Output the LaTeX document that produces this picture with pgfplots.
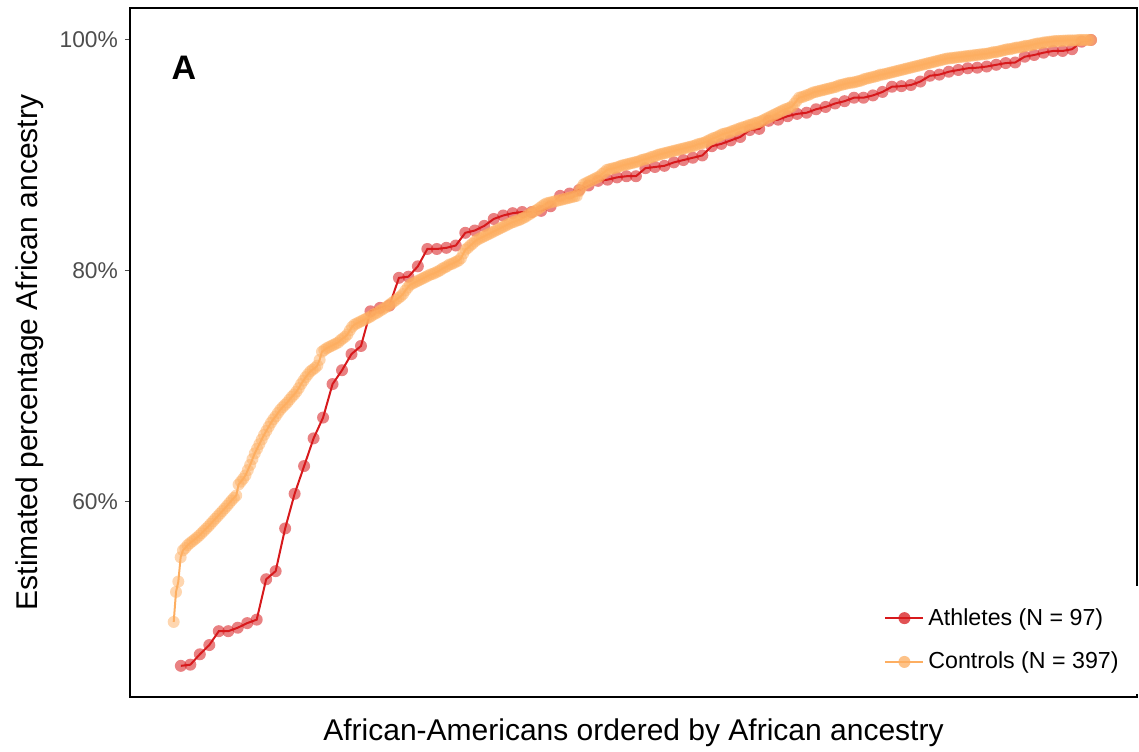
\documentclass[border=0pt]{standalone}
\usepackage{fontspec}
\setmainfont{Liberation Sans}
\usepackage{pgfplots}
\usepackage{pgfplotstable}
\pgfplotsset{compat=1.18}

\definecolor{athred}{HTML}{D7191C}
\definecolor{ctlorange}{HTML}{FDAE61}
\definecolor{tickgray}{HTML}{4D4D4D}

% Estimated African ancestry (%), sorted ascending within each group
\pgfplotstableread[row sep=\\]{
pct\\
45.8\\ 45.9\\ 46.8\\ 47.6\\ 48.8\\ 48.8\\ 49.1\\ 49.5\\ 49.8\\ 53.3\\
54.0\\ 57.7\\ 60.7\\ 63.1\\ 65.5\\ 67.3\\ 70.2\\ 71.4\\ 72.8\\ 73.5\\
76.5\\ 76.8\\ 77.0\\ 79.4\\ 79.5\\ 80.4\\ 81.9\\ 81.9\\ 82.0\\ 82.2\\
83.3\\ 83.5\\ 83.9\\ 84.5\\ 84.8\\ 85.0\\ 85.1\\ 85.1\\ 85.2\\ 85.6\\
86.5\\ 86.7\\ 87.0\\ 87.4\\ 87.8\\ 87.9\\ 88.1\\ 88.2\\ 88.2\\ 88.9\\
89.0\\ 89.1\\ 89.4\\ 89.6\\ 89.8\\ 90.0\\ 90.8\\ 91.0\\ 91.3\\ 91.6\\
92.2\\ 92.3\\ 93.0\\ 93.1\\ 93.4\\ 93.6\\ 93.7\\ 94.0\\ 94.2\\ 94.5\\
94.7\\ 95.0\\ 95.0\\ 95.2\\ 95.5\\ 95.95\\ 96.0\\ 96.1\\ 96.4\\ 96.9\\
97.0\\ 97.25\\ 97.4\\ 97.55\\ 97.6\\ 97.7\\ 97.85\\ 98.0\\ 98.05\\ 98.55\\
98.7\\ 98.9\\ 99.05\\ 99.05\\ 99.2\\ 99.85\\ 100.0\\
}\athletes

\pgfplotstableread[row sep=\\]{
pct\\
49.6\\ 52.2\\ 53.1\\ 55.2\\ 55.8\\ 56.0\\ 56.25\\ 56.42\\ 56.58\\ 56.74\\
56.9\\ 57.08\\ 57.28\\ 57.48\\ 57.68\\ 57.88\\ 58.1\\ 58.32\\ 58.54\\ 58.76\\
58.98\\ 59.2\\ 59.42\\ 59.65\\ 59.89\\ 60.13\\ 60.35\\ 60.55\\ 61.5\\ 61.75\\
62.0\\ 62.3\\ 62.75\\ 63.2\\ 63.7\\ 64.2\\ 64.6\\ 65.0\\ 65.4\\ 65.8\\
66.15\\ 66.5\\ 66.85\\ 67.15\\ 67.4\\ 67.7\\ 67.97\\ 68.2\\ 68.4\\ 68.6\\
68.85\\ 69.1\\ 69.3\\ 69.55\\ 69.85\\ 70.2\\ 70.5\\ 70.8\\ 71.05\\ 71.3\\
71.45\\ 71.6\\ 71.8\\ 72.3\\ 73.0\\ 73.15\\ 73.3\\ 73.4\\ 73.5\\ 73.6\\
73.7\\ 73.8\\ 74.0\\ 74.15\\ 74.3\\ 74.5\\ 74.85\\ 75.15\\ 75.35\\ 75.45\\
75.55\\ 75.65\\ 75.75\\ 75.85\\ 75.95\\ 76.05\\ 76.2\\ 76.3\\ 76.4\\ 76.55\\
76.65\\ 76.8\\ 76.9\\ 77.05\\ 77.2\\ 77.35\\ 77.5\\ 77.65\\ 77.8\\ 78.0\\
78.3\\ 78.55\\ 78.8\\ 78.9\\ 79.0\\ 79.1\\ 79.2\\ 79.3\\ 79.4\\ 79.5\\
79.6\\ 79.7\\ 79.75\\ 79.85\\ 79.95\\ 80.05\\ 80.2\\ 80.3\\ 80.4\\ 80.55\\
80.6\\ 80.7\\ 80.8\\ 80.9\\ 81.1\\ 81.5\\ 81.85\\ 82.0\\ 82.2\\ 82.35\\
82.55\\ 82.7\\ 82.8\\ 82.9\\ 83.0\\ 83.1\\ 83.2\\ 83.3\\ 83.4\\ 83.5\\
83.6\\ 83.7\\ 83.8\\ 83.9\\ 84.0\\ 84.1\\ 84.2\\ 84.25\\ 84.35\\ 84.4\\
84.5\\ 84.6\\ 84.7\\ 84.85\\ 84.95\\ 85.1\\ 85.2\\ 85.3\\ 85.45\\ 85.6\\
85.75\\ 85.85\\ 85.9\\ 85.95\\ 86.0\\ 86.05\\ 86.1\\ 86.15\\ 86.2\\ 86.25\\
86.3\\ 86.35\\ 86.4\\ 86.45\\ 86.5\\ 86.9\\ 87.2\\ 87.5\\ 87.6\\ 87.7\\
87.8\\ 87.9\\ 88.0\\ 88.1\\ 88.2\\ 88.4\\ 88.55\\ 88.75\\ 88.8\\ 88.85\\
88.9\\ 88.95\\ 89.0\\ 89.1\\ 89.15\\ 89.2\\ 89.25\\ 89.3\\ 89.35\\ 89.4\\
89.45\\ 89.5\\ 89.6\\ 89.65\\ 89.7\\ 89.75\\ 89.85\\ 89.9\\ 89.95\\ 90.05\\
90.1\\ 90.15\\ 90.2\\ 90.25\\ 90.3\\ 90.35\\ 90.4\\ 90.45\\ 90.5\\ 90.55\\
90.6\\ 90.65\\ 90.7\\ 90.75\\ 90.8\\ 90.85\\ 90.95\\ 91.0\\ 91.05\\ 91.1\\
91.2\\ 91.3\\ 91.4\\ 91.5\\ 91.55\\ 91.65\\ 91.75\\ 91.85\\ 91.9\\ 91.95\\
92.0\\ 92.1\\ 92.15\\ 92.25\\ 92.3\\ 92.4\\ 92.45\\ 92.5\\ 92.6\\ 92.65\\
92.7\\ 92.8\\ 92.85\\ 92.9\\ 93.0\\ 93.1\\ 93.2\\ 93.3\\ 93.4\\ 93.5\\
93.6\\ 93.7\\ 93.8\\ 93.9\\ 94.0\\ 94.05\\ 94.15\\ 94.25\\ 94.5\\ 94.75\\
95.0\\ 95.05\\ 95.1\\ 95.2\\ 95.25\\ 95.35\\ 95.45\\ 95.5\\ 95.55\\ 95.6\\
95.65\\ 95.7\\ 95.75\\ 95.8\\ 95.85\\ 95.9\\ 95.95\\ 96.05\\ 96.1\\ 96.15\\
96.2\\ 96.25\\ 96.3\\ 96.3\\ 96.35\\ 96.4\\ 96.45\\ 96.5\\ 96.6\\ 96.65\\
96.7\\ 96.75\\ 96.8\\ 96.85\\ 96.9\\ 97.0\\ 97.0\\ 97.05\\ 97.1\\ 97.15\\
97.2\\ 97.25\\ 97.3\\ 97.35\\ 97.4\\ 97.45\\ 97.5\\ 97.55\\ 97.6\\ 97.65\\
97.7\\ 97.75\\ 97.8\\ 97.85\\ 97.9\\ 97.95\\ 98.0\\ 98.05\\ 98.1\\ 98.15\\
98.2\\ 98.25\\ 98.3\\ 98.35\\ 98.4\\ 98.4\\ 98.45\\ 98.45\\ 98.5\\ 98.5\\
98.55\\ 98.55\\ 98.6\\ 98.6\\ 98.65\\ 98.65\\ 98.7\\ 98.7\\ 98.75\\ 98.75\\
98.8\\ 98.8\\ 98.85\\ 98.9\\ 98.95\\ 98.95\\ 99.0\\ 99.05\\ 99.1\\ 99.15\\
99.2\\ 99.2\\ 99.25\\ 99.3\\ 99.35\\ 99.35\\ 99.4\\ 99.45\\ 99.5\\ 99.5\\
99.55\\ 99.6\\ 99.65\\ 99.7\\ 99.7\\ 99.75\\ 99.8\\ 99.8\\ 99.85\\ 99.85\\
99.9\\ 99.9\\ 99.92\\ 99.92\\ 99.94\\ 99.94\\ 99.96\\ 99.96\\ 99.96\\ 99.96\\
99.98\\ 100.0\\ 100.0\\ 100.0\\ 100.0\\ 100.0\\ 100.0\\
}\controls

\begin{document}
\begin{tikzpicture}
\begin{axis}[
  name=ax,
  scale only axis,
  width=503.5pt, height=344.5pt,
  xmin=-0.045, xmax=1.05,
  ymin=43.1, ymax=102.77,
  xtick=\empty,
  ytick={60,80,100},
  ytick pos=left,
  yticklabels={60\%,80\%,100\%},
  yticklabel style={font=\fontsize{11.4}{13}\selectfont, text=tickgray},
  tick align=outside,
  major tick length=2.5pt,
  every tick/.style={tickgray, line width=0.5pt},
  axis line style={line width=0.9pt},
  xlabel={African-Americans ordered by African ancestry},
  ylabel={Estimated percentage African ancestry},
  label style={font=\fontsize{15}{18}\selectfont},
  x label style={at={(axis description cs:0.5,-0.0523)}, anchor=center},
  y label style={at={(axis description cs:-0.0993,0.5)}, anchor=center},
  legend style={at={(rel axis cs:1.002,0.004)}, anchor=south east,
    fill=white, draw=none, font=\fontsize{11.6}{14}\selectfont,
    inner xsep=8pt, inner ysep=9pt, row sep=8pt},
  legend cell align=left,
  legend image code/.code={%
    \draw[mark repeat=2,mark phase=2] plot coordinates {(0pt,0pt) (9.5pt,0pt) (19pt,0pt)};},
]
% connecting lines
\addplot[athred, line width=1pt, forget plot]
  table[x expr={(\coordindex+1)/97}, y=pct] {\athletes};
\addplot[ctlorange, line width=1pt, forget plot]
  table[x expr={(\coordindex+1)/397}, y=pct] {\controls};
% individual points, semi-transparent
\addplot[color=athred, only marks, mark=*, mark size=3pt,
  mark options={draw opacity=0, fill=athred, fill opacity=0.55}, forget plot]
  table[x expr={(\coordindex+1)/97}, y=pct] {\athletes};
\addplot[color=ctlorange, only marks, mark=*, mark size=3pt,
  mark options={draw opacity=0, fill=ctlorange, fill opacity=0.5}, forget plot]
  table[x expr={(\coordindex+1)/397}, y=pct] {\controls};

\addlegendimage{color=athred, line width=1pt, mark=*, mark size=3pt,
  mark options={draw opacity=0, fill=athred, fill opacity=0.75}}
\addlegendentry{Athletes (N = 97)}
\addlegendimage{color=ctlorange, line width=1pt, mark=*, mark size=3pt,
  mark options={draw opacity=0, fill=ctlorange, fill opacity=0.75}}
\addlegendentry{Controls (N = 397)}

\node[font=\bfseries\fontsize{17}{20}\selectfont] at (rel axis cs:0.0536,0.913) {A};
\end{axis}
\pgfresetboundingbox
\path ([shift={(-65pt,-27pt)}]ax.south west) rectangle ([shift={(1pt,4pt)}]ax.north east);
\end{tikzpicture}
\end{document}
